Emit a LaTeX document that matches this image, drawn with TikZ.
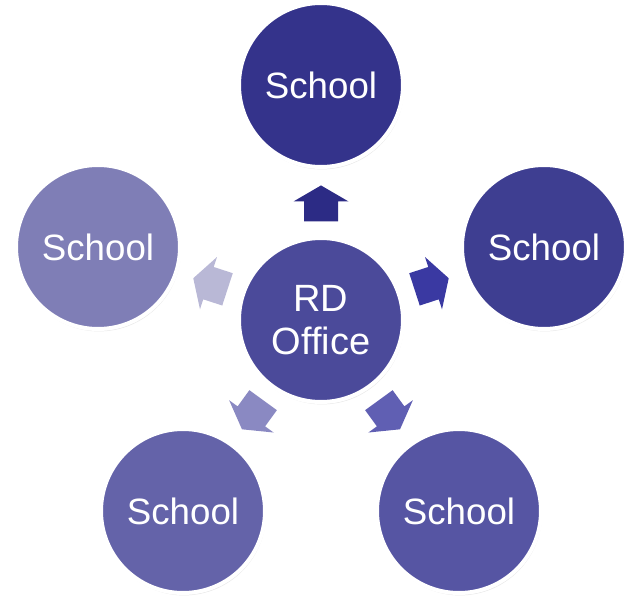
\documentclass[tikz,border=0pt]{standalone}
\usepackage{fontspec}
\setmainfont{Liberation Sans}
\usetikzlibrary{calc,shadows}
\definecolor{cTop}{HTML}{34338B}
\definecolor{cRight}{HTML}{3E3E91}
\definecolor{cCenter}{HTML}{4B4A9A}
\definecolor{cBR}{HTML}{5655A3}
\definecolor{cBL}{HTML}{6463A9}
\definecolor{cLeft}{HTML}{7F7EB6}
\definecolor{aTop}{HTML}{2C2B85}
\definecolor{aRight}{HTML}{3A39A2}
\definecolor{aBR}{HTML}{605FB3}
\definecolor{aBL}{HTML}{8A89C2}
\definecolor{aLeft}{HTML}{B9B8D6}
\tikzset{
  schoolcircle/.style={circle, draw=white, line width=3pt, minimum size=123pt,
    inner sep=0pt, text=white, font=\fontsize{27.5pt}{32pt}\selectfont,
    align=center,
    drop shadow={opacity=0.18, shadow xshift=0.8pt, shadow yshift=-1.8pt}},
  blockarrow/.pic={
    \fill[pic actions] (-18,-17) -- (2,-17) -- (2,-27.5) -- (18,0)
      -- (2,27.5) -- (2,17) -- (-18,17) -- cycle;
  }
}
\begin{document}
\begin{tikzpicture}[x=0.75pt,y=-0.75pt]
\useasboundingbox (0,0) rectangle (626,600);
\node[schoolcircle, fill=cCenter, font=\fontsize{28.5pt}{32pt}\selectfont] (c) at (321,320) {RD\\Office};
\node[schoolcircle, fill=cTop] (top) at (321,85) {School};
\node[schoolcircle, fill=cRight] (right) at (544,247) {School};
\node[schoolcircle, fill=cLeft] (left) at (98,247) {School};
\node[schoolcircle, fill=cBR] (br) at (459,511) {School};
\node[schoolcircle, fill=cBL] (bl) at (183,511) {School};
\pic[fill=aTop, rotate=90] at ($(c)!0.496!(top)$) {blockarrow};
\pic[fill=aRight, rotate=18] at ($(c)!0.496!(right)$) {blockarrow};
\pic[fill=aLeft, rotate=162] at ($(c)!0.496!(left)$) {blockarrow};
\pic[fill=aBR, rotate=-54] at ($(c)!0.496!(br)$) {blockarrow};
\pic[fill=aBL, rotate=-126] at ($(c)!0.496!(bl)$) {blockarrow};
\end{tikzpicture}
\end{document}
